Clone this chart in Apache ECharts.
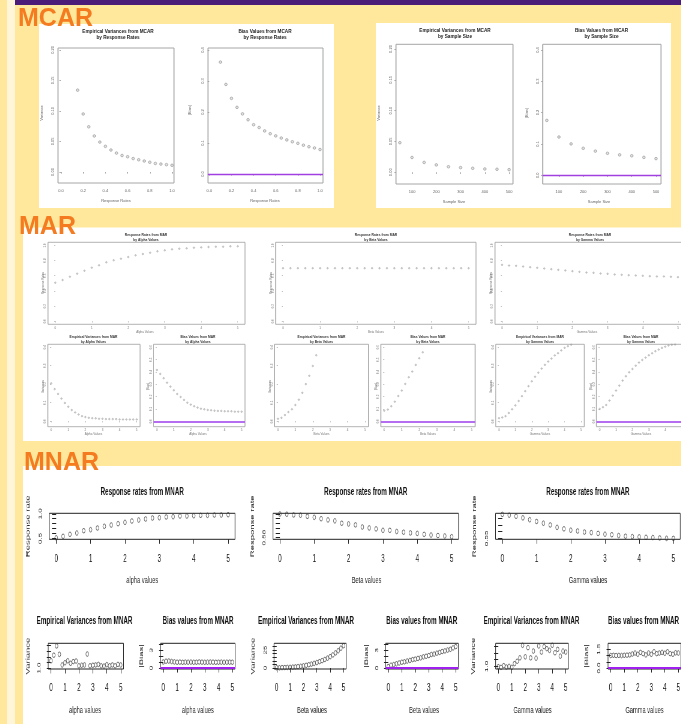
<!DOCTYPE html>
<html><head><meta charset="utf-8">
<script src="https://cdn.jsdelivr.net/npm/echarts@6/dist/echarts.min.js"></script>
<style>
html,body{margin:0;padding:0;overflow:hidden;width:681px;height:724px;background:#FFE89B;}
#main{position:absolute;left:0;top:0;width:681px;height:724px;}
#mnar{position:absolute;left:23px;top:466px;width:1097px;height:258px;transform:scaleX(0.6);transform-origin:0 0;}
</style></head><body>
<div id="main"></div><div id="mnar"></div>
<script>
// ---------------- DATA ----------------
// MCAR
const mcarVarRR = [0.15,0.2,0.25,0.3,0.35,0.4,0.45,0.5,0.55,0.6,0.65,0.7,0.75,0.8,0.85,0.9,0.95,1.0];
const mcarVarByRR = [0.134,0.095,0.074,0.059,0.049,0.042,0.036,0.031,0.027,0.025,0.022,0.020,0.018,0.016,0.014,0.013,0.012,0.011];
const mcarBiasRR = [0.1,0.15,0.2,0.25,0.3,0.35,0.4,0.45,0.5,0.55,0.6,0.65,0.7,0.75,0.8,0.85,0.9,0.95,1.0];
const mcarBiasByRR = [0.361,0.289,0.244,0.215,0.194,0.175,0.159,0.150,0.139,0.130,0.123,0.116,0.110,0.104,0.099,0.093,0.088,0.084,0.079];
const sampleSizes = [50,100,150,200,250,300,350,400,450,500];
const mcarVarBySS = [0.048,0.024,0.016,0.012,0.009,0.0076,0.0065,0.0054,0.0049,0.0043];
const mcarBiasBySS = [0.175,0.122,0.100,0.086,0.077,0.070,0.065,0.062,0.057,0.053];
// MAR
const marParam = [0,0.2,0.4,0.6,0.8,1.0,1.2,1.4,1.6,1.8,2.0,2.2,2.4,2.6,2.8,3.0,3.2,3.4,3.6,3.8,4.0,4.2,4.4,4.6,4.8,5.0];
const marRRAlpha = [0.508,0.543,0.587,0.627,0.666,0.706,0.737,0.776,0.803,0.824,0.846,0.868,0.886,0.903,0.921,0.934,0.947,0.956,0.960,0.969,0.973,0.978,0.982,0.982,0.987,0.987];
const marRRBeta = [0.699,0.699,0.699,0.699,0.699,0.699,0.699,0.699,0.699,0.699,0.699,0.699,0.699,0.699,0.699,0.699,0.699,0.699,0.699,0.699,0.699,0.699,0.699,0.699,0.699,0.699];
const marRRGamma = [0.743,0.734,0.730,0.721,0.712,0.704,0.695,0.686,0.677,0.669,0.660,0.651,0.642,0.638,0.629,0.625,0.616,0.612,0.607,0.603,0.599,0.594,0.590,0.590,0.586,0.581];
const marVarAlpha = [0.204,0.173,0.147,0.122,0.098,0.078,0.060,0.047,0.036,0.027,0.022,0.018,0.016,0.015,0.013,0.013,0.011,0.011,0.011,0.011,0.009,0.009,0.009,0.009,0.009,0.009];
const marBiasAlpha = [0.416,0.384,0.349,0.313,0.281,0.251,0.221,0.197,0.173,0.151,0.135,0.122,0.111,0.102,0.097,0.092,0.089,0.086,0.084,0.084,0.081,0.081,0.081,0.078,0.078,0.078];
const marVarBeta = [0.013,0.018,0.033,0.049,0.064,0.087,0.116,0.153,0.200,0.245,0.298,0.356];
const marBiasBeta = [0.086,0.095,0.122,0.159,0.205,0.249,0.303,0.357,0.403,0.457,0.511,0.559];
const marVarGamma = [0.016,0.020,0.027,0.044,0.064,0.085,0.109,0.135,0.162,0.189,0.215,0.240,0.262,0.284,0.304,0.322,0.338,0.355,0.367,0.382,0.396,0.405,0.413];
const marBiasGamma = [0.100,0.114,0.132,0.168,0.208,0.249,0.289,0.330,0.365,0.397,0.424,0.451,0.476,0.497,0.516,0.535,0.551,0.568,0.581,0.595,0.605,0.614,0.620,0.622];
// MNAR
const mnarParam = [0,0.2,0.4,0.6,0.8,1.0,1.2,1.4,1.6,1.8,2.0,2.2,2.4,2.6,2.8,3.0,3.2,3.4,3.6,3.8,4.0,4.2,4.4,4.6,4.8,5.0];
const mnarRRAlpha = [0.51,0.541,0.582,0.608,0.655,0.676,0.710,0.745,0.771,0.798,0.826,0.853,0.873,0.894,0.914,0.920,0.935,0.941,0.955,0.955,0.961,0.969,0.969,0.975,0.975,0.981];
const mnarRRBeta = [0.680,0.679,0.676,0.675,0.670,0.666,0.660,0.655,0.651,0.641,0.638,0.634,0.625,0.621,0.617,0.611,0.611,0.606,0.603,0.600,0.598,0.594,0.591,0.589,0.587,0.584];
const mnarRRGamma = [0.729,0.723,0.715,0.703,0.689,0.676,0.663,0.650,0.632,0.621,0.611,0.605,0.597,0.593,0.587,0.581,0.577,0.571,0.566,0.563,0.561,0.558,0.556,0.553,0.550,0.550];
const mnarVarAlpha = [1.26,1.46,1.79,1.49,1.11,1.19,1.26,1.17,1.23,1.25,1.08,1.10,1.11,1.50,1.08,1.10,1.11,1.13,1.08,1.07,1.12,1.08,1.11,1.08,1.13,1.11];
const mnarBiasAlpha = [1.02,1.15,1.18,1.10,1.03,0.98,1.00,0.97,0.99,0.98,1.00,0.97,0.98,1.02,0.99,0.97,0.98,1.00,0.99,0.97,0.98,0.99,0.97,0.98,0.99,0.98];
const mnarVarBeta = [0.5,0.4,0.6,0.7,0.9,1.0,1.3,1.6,2.0,2.5,3.1,3.8,4.6,5.5,6.5,7.6,8.9,10.3,11.9,13.7,15.8,18.2,21.0,24.0,27.5,31.0];
const mnarBiasBeta = [0.25,0.48,0.58,0.72,0.85,0.98,1.05,1.18,1.28,1.42,1.50,1.62,1.72,1.88,1.98,2.10,2.28,2.35,2.50,2.62,2.78,2.88,3.02,3.15,3.38,3.60];
const mnarVarGamma = [0.99,0.97,1.02,0.98,1.00,0.97,1.08,1.15,1.25,1.62,1.28,1.55,1.25,1.45,1.24,1.60,1.42,1.58,1.52,1.47,1.62,1.40,1.50,1.30,1.45,1.42];
const mnarBiasGamma = [1.00,1.02,1.00,1.01,1.00,1.02,1.03,1.05,1.12,1.20,1.10,1.25,1.15,1.05,1.20,1.10,1.30,1.15,1.20,1.25,1.18,1.30,1.15,1.10,1.22,1.20];
// tick values
const rrTicks = [0,0.2,0.4,0.6,0.8,1.0];
const varTicks = [0,0.05,0.10,0.15,0.20];
const biasTicks = [0,0.1,0.2,0.3,0.4];
const ssTicks = [100,200,300,400,500];
const paramTicks = [0,1,2,3,4,5];
const marRRTicks = [0,0.2,0.4,0.6,0.8,1.0];
const marVarTicks = [0,0.1,0.2,0.3,0.4];
const marBiasTicks = [0,0.1,0.2,0.3,0.4,0.5,0.6];
const mnarRRAlphaTicks = [0.5,0.6,0.7,0.8,0.9,1.0];
const mnarRRAlphaLabels = [0.5,1.0];
const mnarRRBetaTicks = [0.58,0.60,0.62,0.64,0.66,0.68];
const mnarRRBetaLabels = [0.58];
const mnarRRGammaTicks = [0.55,0.60,0.65,0.70];
const mnarRRGammaLabels = [0.55];
const mnarVarAlphaTicks = [1.0,1.2,1.4,1.6,1.8];
const mnarVarAlphaLabels = [1.0];
const mnarBiasTicks = [0,1,2,3,4];
const mnarBiasLabels = [0,3];
const mnarVarBetaTicks = [0,5,10,15,20,25,30];
const mnarVarBetaLabels = [0,25];
const mnarVarGammaTicks = [1.0,1.2,1.4,1.6];
const mnarVarGammaLabels = [1.0];
const mnarBiasGammaTicks = [0,0.5,1.0,1.5];
const mnarBiasGammaLabels = [0,1.5];

// ---------------- HELPERS ----------------
const FONT = '"Liberation Sans", Arial, Helvetica, sans-serif';
function txt(x, y, text, size, weight, color, rot, lh, align) {
  const a = align || 'center';
  return {type:'text', x:x, y:y, rotation:rot||0, z:50, silent:true,
    style:{text:text, fontSize:size, fontWeight:weight, fontFamily:FONT, fill:color,
      align:a, verticalAlign:'middle', textAlign:a, textVerticalAlign:'middle', lineHeight:lh||size*1.2}};
}
function rect(x, y, w, h, fill) {
  return {type:'rect', z:-100, silent:true, shape:{x:x, y:y, width:w, height:h}, style:{fill:fill}};
}
function addPlot(opt, p, T) {
  const st = p.st, gi = opt.grid.length;
  const L = T.x(p.box[0]), R = T.x(p.box[2]), Tt = T.y(p.box[1]), B = T.y(p.box[3]);
  opt.grid.push({left:L, top:Tt, width:R-L, height:B-Tt, show:true, borderColor:st.box, borderWidth:st.boxW,
    backgroundColor:'rgba(0,0,0,0)', containLabel:false, outerBoundsMode:'none'});
  opt.xAxis.push({type:'value', gridIndex:gi, min:p.xr[0], max:p.xr[1], axisLine:{show:false}, splitLine:{show:false},
    axisTick:{show:true, customValues:p.xt, length:st.xTick, lineStyle:{color:st.axis, width:st.tickW}},
    axisLabel:{show:true, customValues:p.xl || p.xt, formatter:function(v){return Number(v).toFixed(p.xd);},
      fontSize:st.xf, color:st.txt, margin:st.xm, fontFamily:FONT}});
  opt.yAxis.push({type:'value', gridIndex:gi, min:p.yr[0], max:p.yr[1], axisLine:{show:false}, splitLine:{show:false},
    axisTick:{show:true, customValues:p.yt, length:st.yTick, lineStyle:{color:st.axis, width:st.tickW}},
    axisLabel:{show:true, rotate:90, customValues:p.yl || p.yt, formatter:function(v){return Number(v).toFixed(p.yd);},
      fontSize:st.yf, color:st.txt, margin:st.ym, fontFamily:FONT}});
  const s = {type:'scatter', xAxisIndex:gi, yAxisIndex:gi, silent:true, clip:true, symbol:'circle', symbolSize:st.sym,
    itemStyle:{color:st.fill, borderColor:st.pt, borderWidth:st.ptW},
    data:p.xs.map(function(x, i){return [x, p.ys[i]];})};
  if (p.zero) {
    s.markLine = {silent:true, symbol:['none','none'], label:{show:false}, animation:false,
      lineStyle:{color:st.zeroC, width:st.zeroW, type:'solid'}, emphasis:{disabled:true}, data:[{yAxis:0}]};
  }
  opt.series.push(s);
  const G = opt.graphic.elements;
  G.push(txt(T.x(p.title[1]), T.y(p.title[2]), p.title[0], st.titleF, 'bold', st.titleC, 0, st.titleLH));
  G.push(txt(T.x(p.xname[1]), T.y(p.xname[2]), p.xname[0], st.nameF, 'normal', st.nameC, 0));
  G.push(txt(T.x(p.yname[1]), T.y(p.yname[2]), p.yname[0], st.nameF, 'normal', st.nameC, Math.PI/2));
}
function buildOption(plots, T, extra, bg) {
  const opt = {animation:false, backgroundColor:bg, grid:[], xAxis:[], yAxis:[], series:[], graphic:{elements:extra.slice()}};
  plots.forEach(function(p){ addPlot(opt, p, T); });
  return opt;
}

// ---------------- STYLES ----------------
const stMCAR = {box:'#a6a6a6', boxW:1, axis:'#999', xTick:1.6, yTick:1.6, tickW:0.8, xf:4, yf:4, txt:'#666', xm:5.5, ym:2.8,
  sym:2.6, fill:'rgba(160,160,160,0.35)', pt:'#8a8a8a', ptW:0.7, titleF:4.7, titleLH:6, titleC:'#222', nameF:4, nameC:'#666', zeroC:'#A040E0', zeroW:1.3};
const stMAR = {box:'#a0a0a0', boxW:0.8, axis:'#999', xTick:1.2, yTick:1.2, tickW:0.6, xf:3, yf:3, txt:'#777', xm:2, ym:1.2,
  sym:1.5, fill:'rgba(150,150,150,0.4)', pt:'#999', ptW:0.6, titleF:3.3, titleLH:5.5, titleC:'#333', nameF:3, nameC:'#777', zeroC:'#B56EF0', zeroW:2};
const stMNAR = {box:'#222', boxW:1, axis:'#222', xTick:4.5, yTick:7, tickW:1, xf:10.5, yf:8, txt:'#111', xm:14, ym:11,
  sym:4.6, fill:'rgba(0,0,0,0)', pt:'#333', ptW:0.9, titleF:10.5, titleLH:12, titleC:'#111', nameF:9.5, nameC:'#222', zeroC:'#A020F0', zeroW:2};

// ---------------- MAIN (MCAR + MAR) ----------------
const ID = {x:function(v){return v;}, y:function(v){return v;}};
const mainPlots = [
  {st:stMCAR, box:[58,48,174,183], xr:[-0.027,1.018], yr:[-0.018,0.203], xt:rrTicks, yt:varTicks, xd:1, yd:2,
   xs:mcarVarRR, ys:mcarVarByRR, title:['Empirical Variances from MCAR\nby Response Rates',118,35],
   xname:['Response Rates',116,201], yname:['Variance',42,113]},
  {st:stMCAR, box:[208,48,323,183], xr:[-0.012,1.027], yr:[-0.029,0.4065], xt:rrTicks, yt:biasTicks, xd:1, yd:1,
   xs:mcarBiasRR, ys:mcarBiasByRR, title:['Bias Values from MCAR\nby Response Rates',265,35],
   xname:['Response Rates',265,201], yname:['|Bias|',190,110], zero:true},
  {st:stMCAR, box:[396,44.3,513,184], xr:[34,516], yr:[-0.019,0.2076], xt:ssTicks, yt:varTicks, xd:0, yd:2,
   xs:sampleSizes, ys:mcarVarBySS, title:['Empirical Variances from MCAR\nby Sample Size',455,34],
   xname:['Sample Size',454,202], yname:['Variance',379,113]},
  {st:stMCAR, box:[542.7,44.3,661,184], xr:[33,520.6], yr:[-0.028,0.418], xt:ssTicks, yt:biasTicks, xd:0, yd:1,
   xs:sampleSizes, ys:mcarBiasBySS, title:['Bias Values from MCAR\nby Sample Size',601.5,34],
   xname:['Sample Size',599,202], yname:['|Bias|',527,113], zero:true},

  {st:stMAR, box:[48,242.3,245,324.3], xr:[-0.2,5.2], yr:[-0.04,1.04], xt:paramTicks, yt:marRRTicks, xd:0, yd:1,
   xs:marParam, ys:marRRAlpha, title:['Response Rates from MAR\nby Alpha Values',146,237.8],
   xname:['Alpha Values',145,332], yname:['Response Rates',43,283]},
  {st:stMAR, box:[275.6,242.3,476,324.3], xr:[-0.2,5.2], yr:[-0.04,1.04], xt:paramTicks, yt:marRRTicks, xd:0, yd:1,
   xs:marParam, ys:marRRBeta, title:['Response Rates from MAR\nby Beta Values',376,237.8],
   xname:['Beta Values',376,332], yname:['Response Rates',271,283]},
  {st:stMAR, box:[495,242.3,685,324.3], xr:[-0.2,5.2], yr:[-0.04,1.04], xt:paramTicks, yt:marRRTicks, xd:0, yd:1,
   xs:marParam, ys:marRRGamma, title:['Response Rates from MAR\nby Gamma Values',590,237.8],
   xname:['Gamma Values',587,332], yname:['Response Rates',491,283]},
  {st:stMAR, box:[47.8,344.3,140.1,426.7], xr:[-0.2,5.2], yr:[-0.03,0.415], xt:paramTicks, yt:marVarTicks, xd:0, yd:1,
   xs:marParam, ys:marVarAlpha, title:['Empirical Variances from MAR\nby Alpha Values',93.5,339.7],
   xname:['Alpha Values',93.5,434], yname:['Variances',43,386.5]},
  {st:stMAR, box:[153.5,344.3,245,426.7], xr:[-0.2,5.2], yr:[-0.044,0.624], xt:paramTicks, yt:marBiasTicks, xd:0, yd:1,
   xs:marParam, ys:marBiasAlpha, title:['Bias Values from MAR\nby Alpha Values',198,339.7],
   xname:['Alpha Values',198,434], yname:['|Bias|',148.5,386.5], zero:true},
  {st:stMAR, box:[274.5,344.3,368.5,426.7], xr:[-0.2,5.2], yr:[-0.03,0.415], xt:paramTicks, yt:marVarTicks, xd:0, yd:1,
   xs:marParam.slice(0, marVarBeta.length), ys:marVarBeta, title:['Empirical Variances from MAR\nby Beta Values',321.5,339.7],
   xname:['Beta Values',321.5,434], yname:['Variances',270,386.5]},
  {st:stMAR, box:[380.8,344.3,475.2,426.7], xr:[-0.2,5.2], yr:[-0.044,0.624], xt:paramTicks, yt:marBiasTicks, xd:0, yd:1,
   xs:marParam.slice(0, marBiasBeta.length), ys:marBiasBeta, title:['Bias Values from MAR\nby Beta Values',428,339.7],
   xname:['Beta Values',428,434], yname:['|Bias|',376.5,386.5], zero:true},
  {st:stMAR, box:[495.7,344.3,584.3,426.7], xr:[-0.2,5.2], yr:[-0.03,0.415], xt:paramTicks, yt:marVarTicks, xd:0, yd:1,
   xs:marParam.slice(0, marVarGamma.length), ys:marVarGamma, title:['Empirical Variances from MAR\nby Gamma Values',540,339.7],
   xname:['Gamma Values',540,434], yname:['Variances',491.5,386.5]},
  {st:stMAR, box:[596.4,344.3,684.9,426.7], xr:[-0.2,5.2], yr:[-0.044,0.624], xt:paramTicks, yt:marBiasTicks, xd:0, yd:1,
   xs:marParam.slice(0, marBiasGamma.length), ys:marBiasGamma, title:['Bias Values from MAR\nby Gamma Values',641,339.7],
   xname:['Gamma Values',641,434], yname:['|Bias|',591.5,386.5], zero:true}
];
const ORANGE = '#F47B20';
const mainExtra = [
  rect(7,0,8,724,'#FFF6DA'),
  rect(15,0,666,5,'#4B1C78'),
  rect(39,24,295,184,'#FFFFFF'),
  rect(376,23,295,185,'#FFFFFF'),
  rect(23,227.5,658,213.5,'#FFFFFF'),
  rect(23,466,658,258,'#FFFFFF'),
  txt(18,19.5,'MCAR',25,'bold',ORANGE,0,28,'left'),
  txt(19,227.5,'MAR',25,'bold',ORANGE,0,28,'left'),
  txt(24,463,'MNAR',25,'bold',ORANGE,0,28,'left')
];
const mainChart = echarts.init(document.getElementById('main'), null, {renderer:'canvas'});
mainChart.setOption(buildOption(mainPlots, ID, mainExtra, '#FFE89B'));

// ---------------- MNAR (horizontally condensed like the reference) ----------------
const SQ = {x:function(v){return (v - 23) / 0.6;}, y:function(v){return v - 466;}};
const mnarPlots = [
  {st:stMNAR, box:[49.3,513.3,235,539.3], xr:[-0.2,5.2], yr:[0.48,1.01], xt:paramTicks, yt:mnarRRAlphaTicks, yl:mnarRRAlphaLabels, xd:0, yd:1,
   xs:mnarParam, ys:mnarRRAlpha, title:['Response rates from MNAR',142.2,492],
   xname:['alpha values',142.2,580], yname:['Response rate',28.3,526.3]},
  {st:stMNAR, box:[273,513.3,458.5,539.3], xr:[-0.2,5.2], yr:[0.573,0.683], xt:paramTicks, yt:mnarRRBetaTicks, yl:mnarRRBetaLabels, xd:0, yd:2,
   xs:mnarParam, ys:mnarRRBeta, title:['Response rates from MNAR',365.75,492],
   xname:['Beta values',366.5,580], yname:['Response rate',252.3,526.3]},
  {st:stMNAR, box:[495.5,513.3,680.2,539.3], xr:[-0.2,5.2], yr:[0.543,0.737], xt:paramTicks, yt:mnarRRGammaTicks, yl:mnarRRGammaLabels, xd:0, yd:2,
   xs:mnarParam, ys:mnarRRGamma, title:['Response rates from MNAR',587.9,492],
   xname:['Gamma values',587.9,580], yname:['Response rate',474.5,526.3]},
  {st:stMNAR, box:[48.2,643.3,123.5,669], xr:[-0.2,5.2], yr:[0.966,1.884], xt:paramTicks, yt:mnarVarAlphaTicks, yl:mnarVarAlphaLabels, xd:0, yd:1,
   xs:mnarParam, ys:mnarVarAlpha, title:['Empirical Variances from MNAR',84.5,621],
   xname:['alpha values',85,710.7], yname:['Variance',28.3,656]},
  {st:stMNAR, box:[160.5,643.3,235.1,669], xr:[-0.2,5.2], yr:[-0.16,4.16], xt:paramTicks, yt:mnarBiasTicks, yl:mnarBiasLabels, xd:0, yd:0,
   xs:mnarParam, ys:mnarBiasAlpha, title:['Bias values from MNAR',198,621],
   xname:['alpha values',197.8,710.7], yname:['|Bias|',141.7,656], zero:true},
  {st:stMNAR, box:[274,643.3,346.2,669], xr:[-0.2,5.2], yr:[-1.3,34.3], xt:paramTicks, yt:mnarVarBetaTicks, yl:mnarVarBetaLabels, xd:0, yd:0,
   xs:mnarParam, ys:mnarVarBeta, title:['Empirical Variances from MNAR',306,621],
   xname:['Beta values',312,710.7], yname:['Variance',253.3,656]},
  {st:stMNAR, box:[385.6,643.3,458.4,669], xr:[-0.2,5.2], yr:[-0.16,4.16], xt:paramTicks, yt:mnarBiasTicks, yl:mnarBiasLabels, xd:0, yd:0,
   xs:mnarParam, ys:mnarBiasBeta, title:['Bias values from MNAR',421.7,621],
   xname:['Beta values',424,710.7], yname:['|Bias|',366.7,656], zero:true},
  {st:stMNAR, box:[495.6,643.3,568.4,669], xr:[-0.2,5.2], yr:[0.922,1.678], xt:paramTicks, yt:mnarVarGammaTicks, yl:mnarVarGammaLabels, xd:0, yd:1,
   xs:mnarParam, ys:mnarVarGamma, title:['Empirical Variances from MNAR',531.5,621],
   xname:['Gamma values',532.5,710.7], yname:['Variance',473.3,656]},
  {st:stMNAR, box:[608,643.3,681,669], xr:[-0.2,5.2], yr:[-0.076,1.976], xt:paramTicks, yt:mnarBiasGammaTicks, yl:mnarBiasGammaLabels, xd:0, yd:1,
   xs:mnarParam, ys:mnarBiasGamma, title:['Bias values from MNAR',643.5,621],
   xname:['Gamma values',644.5,710.7], yname:['|Bias|',586.7,656], zero:true}
];
const mnarChart = echarts.init(document.getElementById('mnar'), null, {renderer:'canvas'});
mnarChart.setOption(buildOption(mnarPlots, SQ, [], 'rgba(0,0,0,0)'));
</script>
</body></html>
